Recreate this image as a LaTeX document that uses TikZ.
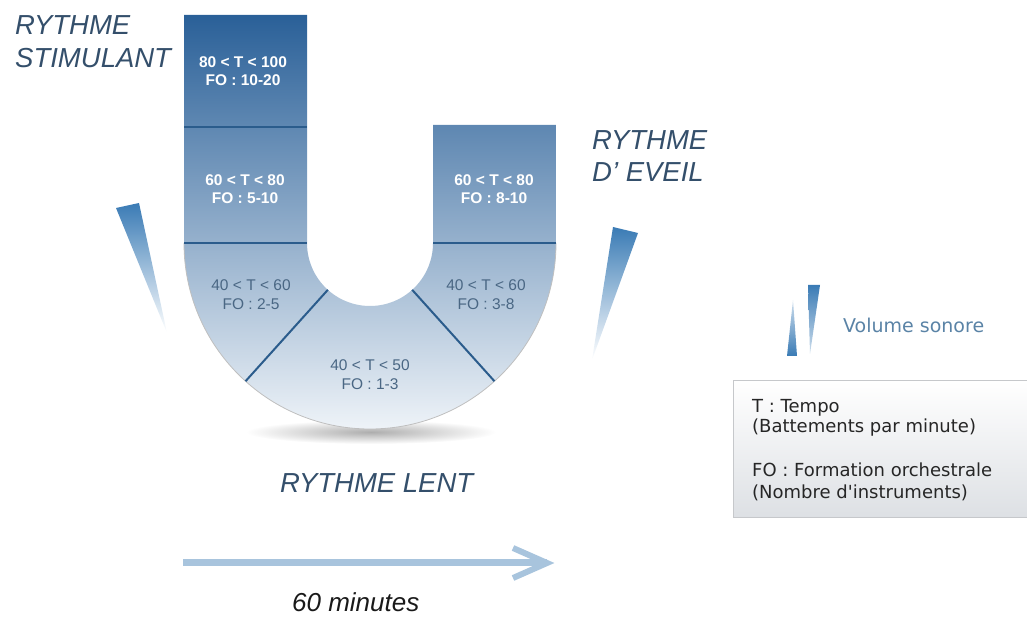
\documentclass[tikz,border=0pt]{standalone}
\usepackage{fontspec}
\setmainfont{Liberation Sans}
\newfontfamily\dvs{DejaVu Sans}
\usetikzlibrary{calc}
\definecolor{ublueA}{HTML}{2A6098}
\definecolor{ublueB}{HTML}{84AAD0}
\definecolor{ublueC}{HTML}{EEF3F8}
\definecolor{divline}{HTML}{2B5C8C}
\definecolor{lowtext}{HTML}{4A6784}
\definecolor{titlecol}{HTML}{344F6B}
\definecolor{wedgecol}{HTML}{3A7BB5}
\definecolor{arrowcol}{HTML}{A8C4DD}
\definecolor{volcol}{HTML}{5A83A6}
\definecolor{legborder}{HTML}{C6C8CB}
\definecolor{legbottom}{HTML}{DDE0E4}
\tikzset{
  uptext/.style={text=white, align=center, font=\bfseries\fontsize{15.5}{18}\selectfont},
  lowtxt/.style={text=lowtext, align=center, font=\fontsize{15.5}{19}\selectfont},
  titletxt/.style={text=titlecol, anchor=base west, inner sep=0pt, font=\itshape\fontsize{27.5}{30}\selectfont},
  divider/.style={draw=divline, line width=2pt},
  wedge/.style={top color=wedgecol, bottom color=white},
  legtxt/.style={anchor=base west, inner sep=0pt, text=black!85, font=\dvs\fontsize{18}{21}\selectfont},
}
\begin{document}
\begin{tikzpicture}[x=1pt,y=1pt]
\useasboundingbox (0,0) rectangle (1027,618);
% shadow under the U
\shade[inner color=black!32, outer color=white] (371,186) ellipse [x radius=125, y radius=12];
% U shape
\coordinate (c) at (370,375);
\shade[top color=ublueA, middle color=ublueB, bottom color=ublueC]
  (184,603) -- (307,603) -- (307,375) arc[start angle=180,end angle=360,radius=63]
  -- (433,493) -- (556,493) -- (556,375) arc[start angle=0,end angle=-180,radius=186] -- cycle;
\draw[draw=black!25, line width=0.8pt]
  (556,375) arc[start angle=0,end angle=-180,radius=186];
% dividers
\coordinate (l1a) at (184,491); \coordinate (l1b) at (307,491);
\coordinate (l2a) at (184,375); \coordinate (l2b) at (307,375);
\coordinate (r1a) at (433,375); \coordinate (r1b) at (556,375);
\coordinate (d1a) at ($(c)+(228:63)$); \coordinate (d1b) at ($(c)+(228:186)$);
\coordinate (d2a) at ($(c)+(312:63)$); \coordinate (d2b) at ($(c)+(312:186)$);
\draw[divider] (l1a) -- (l1b);
\draw[divider] (l2a) -- (l2b);
\draw[divider] (r1a) -- (r1b);
\draw[divider] (d1a) -- (d1b);
\draw[divider] (d2a) -- (d2b);
% section texts
\node[uptext] (s1) at (243,547) {80 < T < 100\\FO : 10-20};
\node[uptext] (s2) at (245,429) {60 < T < 80\\FO : 5-10};
\node[uptext] (s3) at (494,429) {60 < T < 80\\FO : 8-10};
\node[lowtxt] (s4) at (251,323) {40 < T < 60\\FO : 2-5};
\node[lowtxt] (s5) at (486,323) {40 < T < 60\\FO : 3-8};
\node[lowtxt] (s6) at (370,243) {40 < T < 50\\FO : 1-3};
% titles
\node[titletxt] (ts1) at (15,583) {RYTHME};
\node[titletxt] (ts2) at (15,550) {STIMULANT};
\node[titletxt] (te1) at (592,468) {RYTHME};
\node[titletxt] (te2) at (592,436) {D' EVEIL};
\node[titletxt] (tl) at (280,125) {RYTHME LENT};
% wedges
\shade[wedge] (116,410) -- (139,415) -- (167,285) -- cycle;
\shade[wedge] (613,391) -- (638,385) -- (592,258) -- cycle;
% volume legend icon
\shade[bottom color=wedgecol, top color=wedgecol!25] (787,262) -- (797,262) -- (793,318) -- cycle;
\shade[top color=wedgecol, bottom color=wedgecol!25] (808,333) -- (820,333) -- (810,264) -- cycle;
\node[anchor=base west, inner sep=0pt, text=volcol, font=\dvs\fontsize{19}{22}\selectfont] (vol) at (843,285) {Volume sonore};
% legend box
\shade[top color=white, bottom color=legbottom] (733,100) rectangle (1027,237);
\draw[legborder, line width=1pt] (1027,100) -- (733,100) -- (733,237) -- (1027,237);
\node[legtxt] (g1) at (752,205) {T : Tempo};
\node[legtxt] (g2) at (752,185) {(Battements par minute)};
\node[legtxt] (g3) at (752,141) {FO : Formation orchestrale};
\node[legtxt] (g4) at (752,119) {(Nombre d'instruments)};
% time arrow
\coordinate (a0) at (183,55);
\coordinate (a1) at (547,55);
\coordinate (ah1) at (513,70);
\coordinate (ah2) at (513,40);
\draw[arrowcol, line width=7pt] (a0) -- (a1);
\draw[arrowcol, line width=6pt, line join=miter] (ah1) -- (a1) -- (ah2);
\node[anchor=base west, inner sep=0pt, text=black!90, font=\itshape\fontsize{26}{30}\selectfont] (min) at (292,7) {60 minutes};
\end{tikzpicture}
\end{document}
